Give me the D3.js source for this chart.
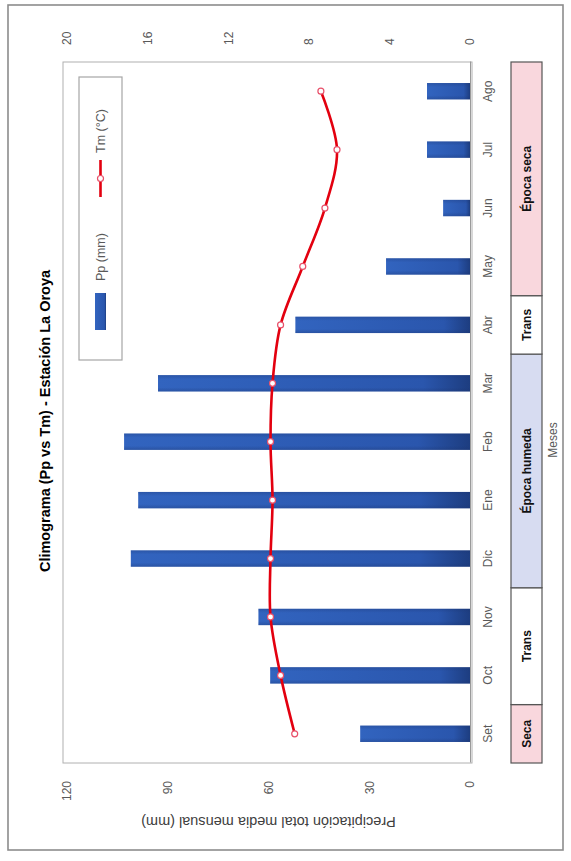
<!DOCTYPE html>
<html>
<head>
<meta charset="utf-8">
<script src="https://cdn.jsdelivr.net/npm/d3@7"></script>
<style>
  body { margin: 0; background: #fff; }
  svg { display: block; }
</style>
</head>
<body>
<svg id="chart" width="571" height="861"></svg>
<script>
// Monthly climate data, La Oroya station (hydrological year Sep–Aug)
const months = ["Set", "Oct", "Nov", "Dic", "Ene", "Feb", "Mar", "Abr", "May", "Jun", "Jul", "Ago"];
const precip = [32.7, 59.5, 63, 101, 98.8, 103, 92.9, 52, 25, 8, 12.8, 12.8];   // mm
const temp   = [8.7, 9.4, 9.9, 9.9, 9.8, 9.9, 9.8, 9.4, 8.3, 7.2, 6.6, 7.4];     // °C
const precipTicks = [0, 30, 60, 90, 120];
const tempTicks = [0, 4, 8, 12, 16, 20];

// Season bands below the month axis
const seasonLabels = ["Seca", "Trans", "Época humeda", "Trans", "Época seca"];
const seasonFrom   = ["Set", "Oct", "Dic", "Abr", "May"];
const seasonTo     = ["Set", "Nov", "Mar", "Abr", "Ago"];
const seasonKind   = ["seca", "trans", "humeda", "trans", "seca"];

const seasonFill = { seca: "#f9d7dd", trans: "#ffffff", humeda: "#d7dcf1" };
const font = "'Liberation Sans', Arial, sans-serif";

// The chart is laid out in a landscape frame and turned a quarter turn counter-clockwise.
const W = 861;
const svg = d3.select("#chart");
const g = svg.append("g").attr("transform", `translate(0,${W}) rotate(-90)`);

const plot = { left: 98, right: 799, top: 67, bottom: 470 };

const xCat = d3.scaleBand().domain(months).range([plot.left, plot.right]);
const xBar = d3.scaleBand().domain(months).range([plot.left, plot.right])
  .paddingInner(0.72).paddingOuter(0.36);
const yP = d3.scaleLinear().domain([0, 120]).range([plot.bottom, plot.top]);
const yT = d3.scaleLinear().domain([0, 20]).range([plot.bottom, plot.top]);

// Gradients for the bars
const defs = svg.append("defs");
const grad = defs.append("linearGradient").attr("id", "barGrad")
  .attr("x1", 0).attr("y1", 0).attr("x2", 0).attr("y2", 1);
grad.append("stop").attr("offset", "0%").attr("stop-color", "#3264bf");
grad.append("stop").attr("offset", "85%").attr("stop-color", "#2a56ad");
grad.append("stop").attr("offset", "100%").attr("stop-color", "#1d3d80");
const gradH = defs.append("linearGradient").attr("id", "barShade")
  .attr("x1", 0).attr("y1", 0).attr("x2", 1).attr("y2", 0);
gradH.append("stop").attr("offset", "0%").attr("stop-color", "#1b3470").attr("stop-opacity", 0.35);
gradH.append("stop").attr("offset", "25%").attr("stop-color", "#1b3470").attr("stop-opacity", 0);
gradH.append("stop").attr("offset", "75%").attr("stop-color", "#1b3470").attr("stop-opacity", 0);
gradH.append("stop").attr("offset", "100%").attr("stop-color", "#1b3470").attr("stop-opacity", 0.3);

// Outer chart border
g.append("rect")
  .attr("x", 11).attr("y", 8).attr("width", 845).attr("height", 555)
  .attr("fill", "#fff").attr("stroke", "#8c8c8c").attr("stroke-width", 1.6);

// Plot area frame
g.append("rect")
  .attr("x", plot.left).attr("y", plot.top - 4)
  .attr("width", plot.right - plot.left).attr("height", plot.bottom - plot.top + 6)
  .attr("fill", "none").attr("stroke", "#b0b0b0").attr("stroke-width", 1);

// Title
g.append("text")
  .attr("x", 440).attr("y", 50)
  .attr("text-anchor", "middle")
  .attr("font-family", font).attr("font-size", 14.5).attr("font-weight", "bold")
  .attr("fill", "#000")
  .text("Climograma (Pp vs Tm) - Estación La Oroya");

// Precipitation bars
const bars = g.append("g");
bars.selectAll("rect.bar")
  .data(months)
  .join("rect")
  .attr("class", "bar")
  .attr("x", (m) => xBar(m))
  .attr("width", xBar.bandwidth())
  .attr("y", (m, i) => yP(precip[i]))
  .attr("height", (m, i) => yP(0) - yP(precip[i]))
  .attr("fill", "url(#barGrad)");
bars.selectAll("rect.shade")
  .data(months)
  .join("rect")
  .attr("class", "shade")
  .attr("x", (m) => xBar(m))
  .attr("width", xBar.bandwidth())
  .attr("y", (m, i) => yP(precip[i]))
  .attr("height", (m, i) => yP(0) - yP(precip[i]))
  .attr("fill", "url(#barShade)");

// Category axis (months)
const xAxis = g.append("g")
  .attr("transform", `translate(0,${plot.bottom})`)
  .call(d3.axisBottom(xCat).tickSize(0).tickPadding(13));
xAxis.select(".domain").attr("stroke", "#9a9a9a");
xAxis.selectAll("text")
  .attr("font-family", font).attr("font-size", 12).attr("fill", "#595959");

// Precipitation axis
const yAxisL = g.append("g")
  .attr("transform", `translate(${plot.left},0)`)
  .call(d3.axisLeft(yP).tickValues(precipTicks).tickSize(0).tickPadding(18));
yAxisL.select(".domain").remove();
yAxisL.selectAll("text")
  .attr("font-family", font).attr("font-size", 12).attr("fill", "#595959");

// Temperature axis
const yAxisR = g.append("g")
  .attr("transform", `translate(${plot.right},0)`)
  .call(d3.axisRight(yT).tickValues(tempTicks).tickSize(0).tickPadding(17));
yAxisR.select(".domain").remove();
yAxisR.selectAll("text")
  .attr("font-family", font).attr("font-size", 12).attr("fill", "#595959");

// Precipitation axis title
g.append("text")
  .attr("transform", `translate(39,${(plot.top + plot.bottom) / 2}) rotate(-90)`)
  .attr("text-anchor", "middle").attr("dy", "0.35em")
  .attr("font-family", font).attr("font-size", 14.5).attr("fill", "#404040")
  .text("Precipitación total media mensual (mm)");

// Temperature line
const line = d3.line()
  .x((d, i) => xCat(months[i]) + xCat.bandwidth() / 2)
  .y((d) => yT(d))
  .curve(d3.curveCatmullRom.alpha(0.5));
g.append("path")
  .datum(temp)
  .attr("d", line)
  .attr("fill", "none")
  .attr("stroke", "#e3000f")
  .attr("stroke-width", 2.6);
g.append("g").selectAll("circle")
  .data(temp)
  .join("circle")
  .attr("cx", (d, i) => xCat(months[i]) + xCat.bandwidth() / 2)
  .attr("cy", (d) => yT(d))
  .attr("r", 3)
  .attr("fill", "#fff")
  .attr("stroke", "#e8506a")
  .attr("stroke-width", 1.2);

// Season bands
const seasonG = g.append("g");
seasonLabels.forEach((label, i) => {
  const x0 = xCat(seasonFrom[i]);
  const x1 = xCat(seasonTo[i]) + xCat.bandwidth();
  seasonG.append("rect")
    .attr("x", x0).attr("y", 511)
    .attr("width", x1 - x0).attr("height", 31)
    .attr("fill", seasonFill[seasonKind[i]])
    .attr("stroke", "#555").attr("stroke-width", 1.2);
  seasonG.append("text")
    .attr("x", (x0 + x1) / 2).attr("y", 526.5)
    .attr("dy", "0.35em").attr("text-anchor", "middle")
    .attr("font-family", font).attr("font-size", 12).attr("font-weight", "bold")
    .attr("fill", "#111")
    .text(label);
});

// Month axis title
g.append("text")
  .attr("x", 421).attr("y", 557)
  .attr("text-anchor", "middle")
  .attr("font-family", font).attr("font-size", 12).attr("fill", "#595959")
  .text("Meses");

// Legend
const leg = g.append("g");
leg.append("rect")
  .attr("x", 501).attr("y", 79).attr("width", 283).attr("height", 43)
  .attr("fill", "#fff").attr("stroke", "#a6a6a6").attr("stroke-width", 1.2);
leg.append("rect")
  .attr("x", 531).attr("y", 95).attr("width", 37).attr("height", 11)
  .attr("fill", "url(#barGrad)");
leg.append("text")
  .attr("x", 580).attr("y", 100.5).attr("dy", "0.35em")
  .attr("font-family", font).attr("font-size", 12.5).attr("fill", "#595959")
  .text("Pp (mm)");
leg.append("line")
  .attr("x1", 664).attr("x2", 701).attr("y1", 100.5).attr("y2", 100.5)
  .attr("stroke", "#e3000f").attr("stroke-width", 2.6);
leg.append("circle")
  .attr("cx", 682.5).attr("cy", 100.5).attr("r", 3)
  .attr("fill", "#fff").attr("stroke", "#e8506a").attr("stroke-width", 1.2);
leg.append("text")
  .attr("x", 708).attr("y", 100.5).attr("dy", "0.35em")
  .attr("font-family", font).attr("font-size", 12.5).attr("fill", "#595959")
  .text("Tm (°C)");
</script>
</body>
</html>
